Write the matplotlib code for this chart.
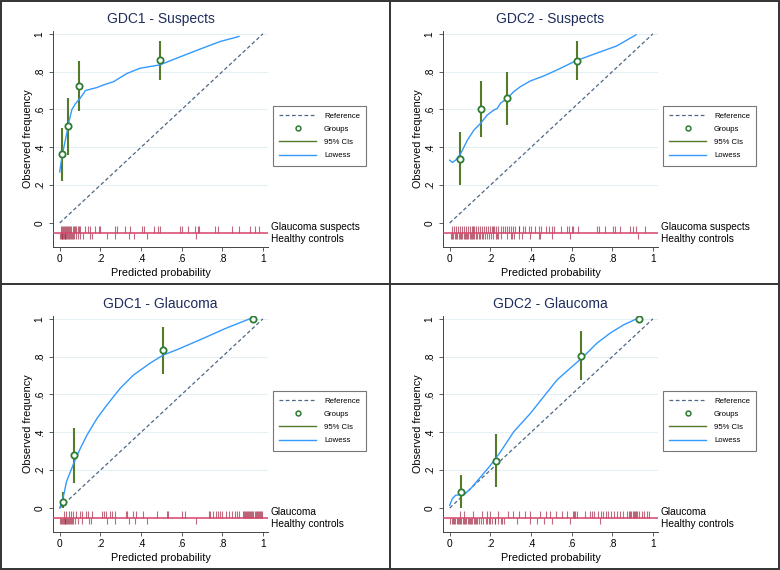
import matplotlib
matplotlib.use("Agg")
import matplotlib.pyplot as plt
from matplotlib.lines import Line2D

plt.rcParams['font.family'] = ['Liberation Sans', 'DejaVu Sans']

# ---- dados ----
titulos = ["GDC1 - Suspects", "GDC2 - Suspects", "GDC1 - Glaucoma", "GDC2 - Glaucoma"]
rotulos_rug = [("Glaucoma suspects", "Healthy controls"),
               ("Glaucoma suspects", "Healthy controls"),
               ("Glaucoma", "Healthy controls"),
               ("Glaucoma", "Healthy controls")]

# grupos: x, y, IC inferior, IC superior
g1_x = [0.011, 0.041, 0.093, 0.495]
g1_y = [0.364, 0.512, 0.726, 0.860]
g1_lo = [0.221, 0.359, 0.592, 0.754]
g1_hi = [0.504, 0.659, 0.857, 0.963]

g2_x = [0.049, 0.154, 0.284, 0.624]
g2_y = [0.339, 0.604, 0.659, 0.859]
g2_lo = [0.200, 0.456, 0.516, 0.754]
g2_hi = [0.479, 0.751, 0.799, 0.963]

g3_x = [0.015, 0.072, 0.508, 0.951]
g3_y = [0.030, 0.279, 0.834, 1.000]
g3_lo = [0.000, 0.133, 0.710, 1.000]
g3_hi = [0.085, 0.424, 0.956, 1.000]

g4_x = [0.057, 0.229, 0.645, 0.933]
g4_y = [0.085, 0.251, 0.806, 1.000]
g4_lo = [0.000, 0.110, 0.677, 1.000]
g4_hi = [0.177, 0.392, 0.935, 1.000]

# curvas lowess
lw1_x = [0.0, 0.011, 0.028, 0.036, 0.044, 0.06, 0.077, 0.101, 0.118, 0.126, 0.15, 0.183,
         0.216, 0.265, 0.33, 0.395, 0.493, 0.575, 0.69, 0.788, 0.882]
lw1_y = [0.27, 0.35, 0.44, 0.48, 0.53, 0.60, 0.63, 0.66, 0.686, 0.70, 0.707, 0.716,
         0.73, 0.747, 0.79, 0.818, 0.836, 0.871, 0.919, 0.959, 0.986]

lw2_x = [0.0, 0.013, 0.029, 0.054, 0.087, 0.119, 0.152, 0.185, 0.217, 0.234, 0.25, 0.283,
         0.315, 0.348, 0.397, 0.462, 0.528, 0.624, 0.724, 0.822, 0.917]
lw2_y = [0.332, 0.32, 0.332, 0.367, 0.438, 0.491, 0.527, 0.571, 0.597, 0.606, 0.633, 0.659,
         0.694, 0.721, 0.751, 0.777, 0.809, 0.859, 0.898, 0.936, 0.995]

lw3_x = [0.0, 0.011, 0.023, 0.033, 0.052, 0.072, 0.101, 0.134, 0.183, 0.232, 0.297, 0.363,
         0.444, 0.51, 0.575, 0.69, 0.82, 0.935]
lw3_y = [0.0, 0.032, 0.085, 0.138, 0.19, 0.244, 0.314, 0.385, 0.473, 0.544, 0.632, 0.703,
         0.765, 0.809, 0.836, 0.889, 0.951, 1.0]

lw4_x = [0.0, 0.013, 0.029, 0.054, 0.07, 0.103, 0.152, 0.201, 0.25, 0.315, 0.397, 0.462,
         0.528, 0.593, 0.658, 0.724, 0.789, 0.855, 0.92]
lw4_y = [0.014, 0.049, 0.067, 0.071, 0.071, 0.102, 0.164, 0.226, 0.297, 0.403, 0.5, 0.588,
         0.677, 0.739, 0.8, 0.871, 0.924, 0.968, 1.0]

# rug: casos (acima da linha) e controles (abaixo)
rug1_casos = [0.004, 0.009, 0.014, 0.019, 0.024, 0.03, 0.035, 0.04, 0.046, 0.052, 0.058,
              0.064, 0.07, 0.075, 0.08, 0.088, 0.094, 0.1, 0.126, 0.137, 0.150, 0.175,
              0.191, 0.199, 0.273, 0.284, 0.322, 0.346, 0.404, 0.415, 0.464, 0.485, 0.493,
              0.592, 0.600, 0.632, 0.665, 0.681, 0.686, 0.763, 0.779, 0.848, 0.882, 0.935,
              0.959, 0.979]
rug1_controles = [0.002, 0.006, 0.01, 0.013, 0.017, 0.02, 0.024, 0.028, 0.032, 0.036, 0.04,
                  0.044, 0.049, 0.054, 0.06, 0.066, 0.072, 0.08, 0.088, 0.10, 0.114, 0.15,
                  0.158, 0.235, 0.27, 0.343, 0.368, 0.428, 0.673]

rug2_casos = [0.01, 0.02, 0.03, 0.04, 0.05, 0.06, 0.07, 0.08, 0.09, 0.1, 0.11, 0.115, 0.12,
              0.13, 0.14, 0.15, 0.16, 0.17, 0.18, 0.19, 0.2, 0.21, 0.215, 0.22, 0.23, 0.24,
              0.25, 0.26, 0.27, 0.28, 0.29, 0.3, 0.31, 0.32, 0.34, 0.36, 0.34, 0.37, 0.39,
              0.40, 0.418, 0.438, 0.45, 0.475, 0.488, 0.503, 0.511, 0.549, 0.577, 0.585,
              0.601, 0.609, 0.629, 0.724, 0.737, 0.765, 0.802, 0.814, 0.838, 0.887, 0.9,
              0.917, 0.961]
rug2_controles = [0.005, 0.012, 0.018, 0.025, 0.032, 0.038, 0.045, 0.05, 0.056, 0.062, 0.068,
                  0.074, 0.08, 0.086, 0.092, 0.098, 0.104, 0.11, 0.116, 0.122, 0.128, 0.135,
                  0.142, 0.15, 0.158, 0.166, 0.175, 0.185, 0.195, 0.205, 0.215, 0.228, 0.24,
                  0.25, 0.234, 0.281, 0.3, 0.309, 0.315, 0.34, 0.356, 0.397, 0.438, 0.446,
                  0.503, 0.593, 0.928]

rug3_casos = [0.02, 0.033, 0.044, 0.056, 0.065, 0.082, 0.098, 0.11, 0.127, 0.138, 0.16,
              0.209, 0.22, 0.229, 0.248, 0.257, 0.273, 0.327, 0.333, 0.359, 0.376, 0.408,
              0.477, 0.526, 0.534, 0.6, 0.616, 0.735, 0.742, 0.752, 0.771, 0.779, 0.791,
              0.801, 0.817, 0.833, 0.85, 0.861, 0.873, 0.882, 0.9, 0.905, 0.91, 0.915, 0.92,
              0.925, 0.93, 0.935, 0.94, 0.945, 0.95, 0.96, 0.965, 0.97, 0.975, 0.98, 0.985,
              0.99, 0.995]
rug3_controles = [0.003, 0.008, 0.012, 0.016, 0.02, 0.024, 0.028, 0.032, 0.036, 0.04, 0.045,
                  0.05, 0.055, 0.06, 0.065, 0.077, 0.088, 0.109, 0.142, 0.154, 0.235, 0.273,
                  0.343, 0.371, 0.428, 0.67]

rug4_casos = [0.05, 0.07, 0.116, 0.16, 0.185, 0.198, 0.237, 0.286, 0.312, 0.34, 0.372, 0.397,
              0.443, 0.475, 0.492, 0.524, 0.552, 0.577, 0.606, 0.612, 0.618, 0.624, 0.667,
              0.688, 0.699, 0.711, 0.732, 0.743, 0.756, 0.769, 0.781, 0.792, 0.809, 0.822,
              0.838, 0.855, 0.874, 0.88, 0.886, 0.892, 0.9, 0.906, 0.912, 0.918, 0.924, 0.93,
              0.945, 0.958, 0.971, 0.983]
rug4_controles = [0.003, 0.01, 0.016, 0.022, 0.028, 0.034, 0.04, 0.046, 0.052, 0.058, 0.064,
                  0.07, 0.076, 0.082, 0.088, 0.094, 0.1, 0.106, 0.112, 0.118, 0.124, 0.13,
                  0.136, 0.145, 0.155, 0.165, 0.18, 0.195, 0.21, 0.225, 0.24, 0.255, 0.185,
                  0.2, 0.225, 0.25, 0.266, 0.332, 0.397, 0.43, 0.462, 0.503, 0.593, 0.74]

grupos = [(g1_x, g1_y, g1_lo, g1_hi), (g2_x, g2_y, g2_lo, g2_hi),
          (g3_x, g3_y, g3_lo, g3_hi), (g4_x, g4_y, g4_lo, g4_hi)]
lowess = [(lw1_x, lw1_y), (lw2_x, lw2_y), (lw3_x, lw3_y), (lw4_x, lw4_y)]
rugs = [(rug1_casos, rug1_controles), (rug2_casos, rug2_controles),
        (rug3_casos, rug3_controles), (rug4_casos, rug4_controles)]

yticks = [0, 0.2, 0.4, 0.6, 0.8, 1]
ytick_labels = ["0", ".2", ".4", ".6", ".8", "1"]

# ---- figura ----
W, H = 780, 570
fig = plt.figure(figsize=(W / 100, H / 100), dpi=100)
fig.patch.set_facecolor("white")

cor_ref = "#4d6785"
cor_grupo = "#2e7d32"
cor_ic = "#557a2a"
cor_lowess = "#3399ff"
cor_rug = "#9a1a38"
cor_linha_rug = "#d6426a"
cor_titulo = "#1f2d5c"

for i in range(4):
    col, lin = i % 2, i // 2
    ox, oy = 390 * col, 285 * lin
    # eixo em pixels dentro do painel
    esq, dir_, topo, base = 53, 268, 31, 247
    ax = fig.add_axes([(ox + esq) / W, 1 - (oy + base) / H,
                       (dir_ - esq) / W, (base - topo) / H])
    ax.set_xlim(-0.033, 1.025)
    ax.set_ylim(-0.127, 1.015)

    for yv in yticks[1:]:
        ax.axhline(yv, color="#e6eff3", lw=0.8, zorder=0)

    ax.plot([0, 1], [0, 1], color=cor_ref, lw=0.9, ls=(0, (3, 2)), zorder=2)

    gx, gy, glo, ghi = grupos[i]
    ax.vlines(gx, glo, ghi, color=cor_ic, lw=1.5, zorder=3)
    lx, ly = lowess[i]
    ax.plot(lx, ly, color=cor_lowess, lw=1.0, zorder=4)
    ax.plot(gx, gy, "o", ms=4.5, mfc="white", mec=cor_grupo, mew=1.3, zorder=5)

    casos, controles = rugs[i]
    ax.vlines(casos, -0.018, -0.051, color=cor_rug, lw=0.8, alpha=0.65, zorder=2)
    ax.vlines(controles, -0.051, -0.087, color=cor_rug, lw=0.8, alpha=0.65, zorder=2)
    ax.axhline(-0.051, color=cor_linha_rug, lw=1.1, zorder=3)

    ax.text(1.012, -0.022, rotulos_rug[i][0], transform=ax.get_yaxis_transform(),
            fontsize=7.3, va="center", ha="left", clip_on=False)
    ax.text(1.012, -0.087, rotulos_rug[i][1], transform=ax.get_yaxis_transform(),
            fontsize=7.3, va="center", ha="left", clip_on=False)

    ax.set_xticks(yticks)
    ax.set_xticklabels(ytick_labels)
    ax.set_yticks(yticks)
    ax.set_yticklabels(ytick_labels, rotation=90, va="center")
    ax.tick_params(labelsize=7.3, length=3, width=0.6, color="#444444", pad=2)
    ax.tick_params(axis="y", pad=3)
    for s in ["top", "right"]:
        ax.spines[s].set_visible(False)
    for s in ["left", "bottom"]:
        ax.spines[s].set_color("#444444")
        ax.spines[s].set_linewidth(0.7)

    ax.set_xlabel("Predicted probability", fontsize=7.8, labelpad=3)
    ax.set_ylabel("Observed frequency", fontsize=7.8, labelpad=1)
    ax.set_title(titulos[i], fontsize=10, color=cor_titulo, pad=6)

    handles = [Line2D([], [], color=cor_ref, lw=0.9, ls=(0, (3, 2))),
               Line2D([], [], ls="", marker="o", ms=3.5, mfc="white", mec=cor_grupo, mew=1.1),
               Line2D([], [], color=cor_ic, lw=1.0),
               Line2D([], [], color=cor_lowess, lw=1.0)]
    leg = ax.legend(handles, ["Reference", "Groups", "95% CIs", "Lowess"],
                    loc="center left", bbox_to_anchor=(1.022, 0.515), fontsize=5.6,
                    frameon=True, fancybox=False, edgecolor="#555555",
                    handlelength=4.8, handletextpad=1.0, labelspacing=0.75,
                    borderpad=0.8, borderaxespad=0)
    leg.get_frame().set_linewidth(0.8)

# bordas dos painéis
fig.add_artist(Line2D([390 / W, 390 / W], [0, 1], color="#333333", lw=1.4))
fig.add_artist(Line2D([0, 1], [1 - 284 / H, 1 - 284 / H], color="#333333", lw=1.4))
fig.add_artist(plt.Rectangle((0.001, 0.001), 0.998, 0.998, fill=False,
                             edgecolor="#333333", lw=1.4, transform=fig.transFigure))

fig.savefig("out.png", dpi=100)
